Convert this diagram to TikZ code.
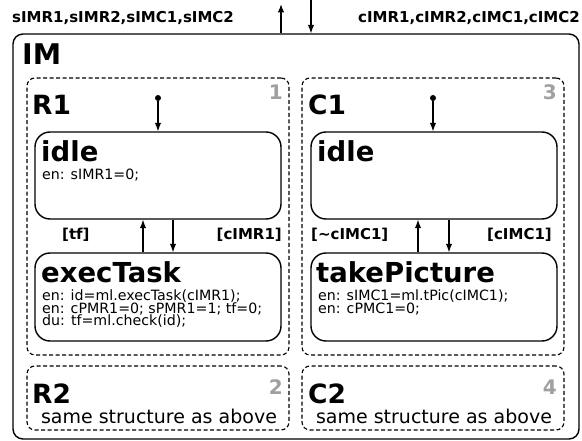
\documentclass[tikz,border=0pt]{standalone}
\usepackage{fontspec}
\setmainfont{DejaVu Sans}
\usetikzlibrary{arrows.meta}
\definecolor{numgray}{RGB}{160,160,160}
\tikzset{
  outerbox/.style={draw, line width=1.4pt, rounded corners=10pt, inner sep=0pt},
  regionbox/.style={draw, dashed, dash pattern=on 4pt off 2.5pt, line width=1.1pt, rounded corners=8pt, inner sep=0pt, minimum width=262pt},
  statebox/.style={draw, line width=1.4pt, rounded corners=15pt, inner sep=0pt, minimum width=246pt},
  tr/.style={line width=1.2pt, -{Latex[length=8.5pt,width=6.5pt]}},
  sig/.style={inner sep=0pt, font=\fontsize{15}{15}\selectfont\bfseries},
  big/.style={inner sep=0pt, font=\fontsize{28.5}{28.5}\selectfont\bfseries},
  rlabel/.style={inner sep=0pt, font=\fontsize{26.5}{26.5}\selectfont\bfseries},
  stitle/.style={inner sep=0pt, font=\fontsize{27.5}{27.5}\selectfont\bfseries},
  num/.style={inner sep=0pt, text=numgray, font=\fontsize{20}{20}\selectfont\bfseries},
  body/.style={inner sep=0pt, text height=9.5pt, text depth=1.5pt, font=\fontsize{14.2}{14.2}\selectfont},
  same/.style={inner sep=0pt, font=\fontsize{19}{19}\selectfont},
  dot/.style={circle, fill, inner sep=0pt, minimum size=6pt}
}
\begin{document}
\begin{tikzpicture}[x=1pt,y=-1pt]
\useasboundingbox (0,0) rectangle (582,441);
% outer
\node[outerbox, minimum width=566pt, minimum height=405pt] (IM) at (296,236.5) {};
\node[big, anchor=base west] (IMl) at (22,65) {IM};
\node[sig, anchor=base west] (sl) at (12,23) {sIMR1,sIMR2,sIMC1,sIMC2};
\node[sig, anchor=base east] (cl) at (580,23) {cIMR1,cIMR2,cIMC1,cIMC2};
\coordinate (upEnd) at (281,4);
\coordinate (downStart) at (311,0);
\draw[tr] (IM.north -| upEnd) -- (upEnd);
\draw[tr] (downStart) -- (IM.north -| downStart);
% regions
\node[regionbox, minimum height=277pt] (R1) at (158,216.5) {};
\node[regionbox, minimum height=277pt] (C1) at (433,216.5) {};
\node[regionbox, minimum height=64pt] (R2) at (158,398) {};
\node[regionbox, minimum height=64pt] (C2) at (433,398) {};
\node[rlabel, anchor=base west] (R1l) at (32,115) {R1};
\node[rlabel, anchor=base west] (C1l) at (308,115) {C1};
\node[rlabel, anchor=base west] (R2l) at (32,403) {R2};
\node[rlabel, anchor=base west] (C2l) at (308,403) {C2};
\node[num, anchor=base east] (n1) at (283,100) {1};
\node[num, anchor=base east] (n3) at (557,100) {3};
\node[num, anchor=base east] (n2) at (283,395) {2};
\node[num, anchor=base east] (n4) at (557,395) {4};
\node[same, anchor=base] (s2) at (159,423) {same structure as above};
\node[same, anchor=base] (s4) at (434,423) {same structure as above};
% R1 states
\node[statebox, minimum height=87pt] (idleR) at (158,175.5) {};
\node[statebox, minimum height=88pt] (execR) at (158,297) {};
\node[stitle, anchor=base west] (idleRt) at (41,162) {idle};
\node[body, anchor=base west] (idleRb) at (42,180) {en: sIMR1=0;};
\node[stitle, anchor=base west] (execRt) at (41,283) {execTask};
\node[body, anchor=base west] (execRb1) at (42,300.5) {en: id=ml.execTask(cIMR1);};
\node[body, anchor=base west] (execRb2) at (42,313.2) {en: cPMR1=0; sPMR1=1; tf=0;};
\node[body, anchor=base west] (execRb3) at (42,325.9) {du: tf=ml.check(id);};
\node[dot] (initR) at (158,98) {};
\draw[tr] (initR) -- (idleR.north);
\coordinate (rUp) at (143,0);
\coordinate (rDown) at (173,0);
\draw[tr] (execR.north -| rUp) -- (idleR.south -| rUp);
\draw[tr] (idleR.south -| rDown) -- (execR.north -| rDown);
\node[sig, anchor=base west] (tfl) at (62,240) {[tf]};
\node[sig, anchor=base east] (cil) at (282,240) {[cIMR1]};
% C1 states
\node[statebox, minimum height=87pt] (idleC) at (434,175.5) {};
\node[statebox, minimum height=88pt] (takeC) at (434,297) {};
\node[stitle, anchor=base west] (idleCt) at (317,162) {idle};
\node[stitle, anchor=base west] (takeCt) at (316,283) {takePicture};
\node[body, anchor=base west] (takeCb1) at (318,300.5) {en: sIMC1=ml.tPic(cIMC1);};
\node[body, anchor=base west] (takeCb2) at (318,313.2) {en: cPMC1=0;};
\node[dot] (initC) at (433,98) {};
\draw[tr] (initC) -- (idleC.north -| initC);
\coordinate (cUp) at (418,0);
\coordinate (cDown) at (449,0);
\draw[tr] (takeC.north -| cUp) -- (idleC.south -| cUp);
\draw[tr] (idleC.south -| cDown) -- (takeC.north -| cDown);
\node[sig, anchor=base west] (ncl) at (311,240) {[\char`\~cIMC1]};
\node[sig, anchor=base east] (cl2) at (552,240) {[cIMC1]};
\end{tikzpicture}
\end{document}
